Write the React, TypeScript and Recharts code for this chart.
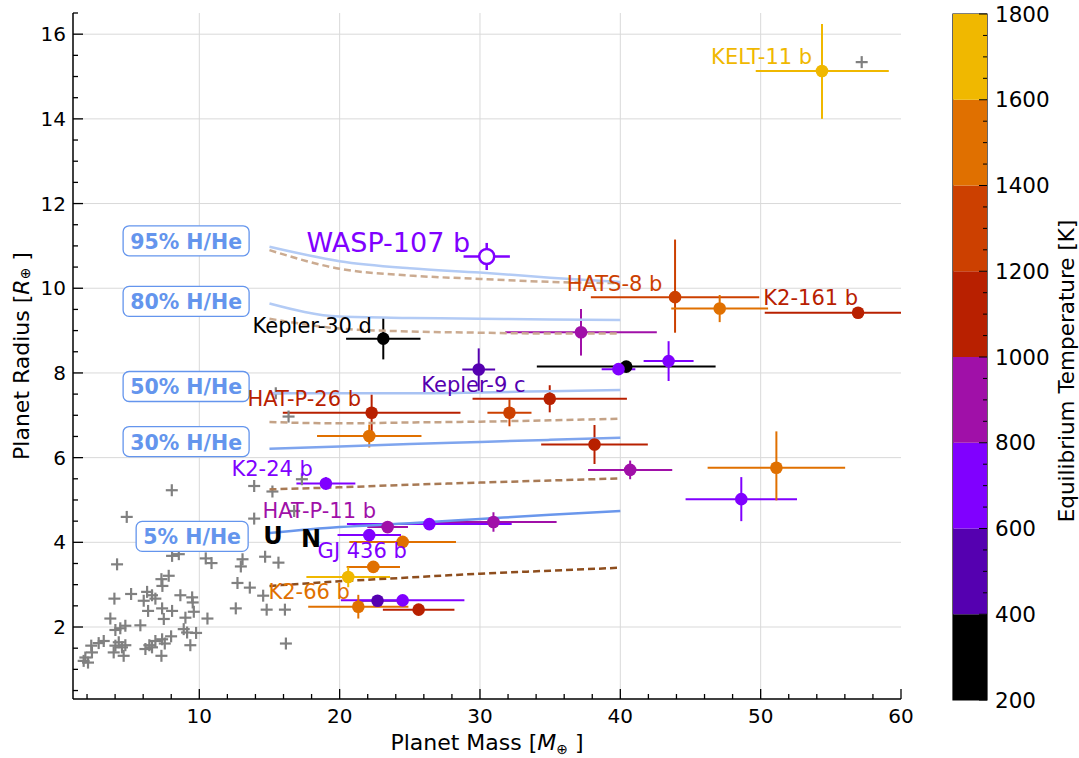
import React from 'react';
import { ScatterChart, Scatter, XAxis, YAxis, CartesianGrid, ErrorBar, BarChart, Bar, ReferenceArea } from 'recharts';

const FONT = '"DejaVu Sans", sans-serif';

// colour bar: equilibrium temperature bins
const TEMP_EDGES = [200, 400, 600, 800, 1000, 1200, 1400, 1600, 1800];
const TEMP_COLORS = ['#000000', '#5500b0', '#8000ff', '#a010a8', '#b82000', '#cc4000', '#e07000', '#f0b800'];

// planets, grouped by temperature bin (mass, radius, mass err, radius err)
const BIN_200 = [
  { x: 23.11, y: 8.81, ex: 2.65, ey: 0.49 },
  { x: 40.42, y: 8.15, ex: 6.37, ey: 0.05 },
];
const BIN_400 = [
  { x: 29.91, y: 8.08, ex: 1.17, ey: 0.5 },
  { x: 22.7, y: 2.62, ex: 1.5, ey: 0.06 },
];
const BIN_600 = [
  { x: 39.87, y: 8.09, ex: 1.2, ey: 0.05 },
  { x: 43.44, y: 8.28, ex: 1.78, ey: 0.47 },
  { x: 48.62, y: 5.02, ex: 3.97, ey: 0.52 },
  { x: 19.02, y: 5.39, ex: 2.1, ey: 0.15 },
  { x: 26.39, y: 4.43, ex: 5.87, ey: 0.08 },
  { x: 22.11, y: 4.17, ex: 2.26, ey: 0.08 },
  { x: 24.49, y: 2.63, ex: 4.4, ey: 0.06 },
];
const BIN_800 = [
  { x: 37.2, y: 8.96, ex: 5.4, ey: 0.55 },
  { x: 40.7, y: 5.71, ex: 3.0, ey: 0.22 },
  { x: 30.96, y: 4.48, ex: 4.5, ey: 0.23 },
  { x: 23.42, y: 4.36, ex: 1.45, ey: 0.06 },
];
const BIN_1000 = [
  { x: 56.94, y: 9.42, ex: [6.65, 3.06], ey: 0.05 },
  { x: 34.97, y: 7.39, ex: 5.5, ey: 0.32 },
  { x: 22.28, y: 7.06, ex: 6.33, ey: 0.43 },
  { x: 38.16, y: 6.31, ex: 3.8, ey: 0.46 },
  { x: 25.63, y: 2.41, ex: 2.55, ey: 0.06 },
];
const BIN_1200 = [
  { x: 43.9, y: 9.79, ex: 6.0, ey: [0.84, 1.36] },
  { x: 32.1, y: 7.06, ex: 1.57, ey: 0.32 },
];
const BIN_1400 = [
  { x: 47.08, y: 9.52, ex: 3.45, ey: 0.32 },
  { x: 22.11, y: 6.51, ex: 3.72, ey: 0.27 },
  { x: 51.12, y: 5.76, ex: 4.9, ey: [0.77, 0.86] },
  { x: 24.49, y: 4.01, ex: 3.8, ey: 0.1 },
  { x: 22.4, y: 3.42, ex: 1.9, ey: 0.08 },
  { x: 21.33, y: 2.48, ex: 3.57, ey: 0.28 },
];
const BIN_1600 = [
  { x: 54.37, y: 15.13, ex: [4.72, 4.76], ey: [1.13, 1.11] },
  { x: 20.61, y: 3.18, ex: 2.98, ey: 0.24 },
];
const PLANET_BINS = [BIN_200, BIN_400, BIN_600, BIN_800, BIN_1000, BIN_1200, BIN_1400, BIN_1600];

// WASP-107 b (open marker)
const WASP107 = [{ x: 30.48, y: 10.75, ex: 1.65, ey: 0.32 }];

// known planets (grey crosses)
const KNOWN = [
  [4.14, 3.48], [3.95, 2.67], [5.14, 2.78], [7.3, 3.13], [7.82, 3.21], [7.37, 2.97], [6.28, 2.83], [6.63, 2.75],
  [6.04, 2.62], [6.87, 2.67], [6.35, 2.38], [7.35, 2.44], [8.06, 2.38], [7.47, 2.19], [8.65, 2.75], [9.49, 2.7],
  [9.53, 2.58], [9.61, 2.36], [9.01, 2.22], [3.66, 2.2], [5.8, 2.04], [4.73, 2.03], [4.02, 1.93], [4.37, 1.97],
  [8.89, 1.95], [9.13, 1.87], [9.77, 1.86], [7.99, 1.78], [7.35, 1.71], [6.87, 1.67], [6.44, 1.57], [6.16, 1.48],
  [6.63, 1.52], [7.54, 1.61], [7.3, 1.32], [9.36, 1.57], [3.19, 1.67], [2.83, 1.62], [2.3, 1.56], [2.35, 1.4],
  [1.88, 1.28], [1.76, 1.2], [2.07, 1.16], [4.02, 1.56], [4.49, 1.52], [4.26, 1.64], [4.73, 1.57], [3.9, 1.4],
  [4.61, 1.32], [8.06, 3.68], [8.54, 3.72], [8.04, 5.23], [4.83, 4.6],
  [13.91, 5.33], [15.21, 5.2], [17.31, 5.49], [13.91, 4.56], [16.76, 4.74], [10.46, 3.62], [10.87, 3.51],
  [13.08, 3.6], [12.96, 3.43], [14.69, 3.66], [15.64, 3.52], [12.72, 3.04], [13.6, 2.93], [14.55, 2.74],
  [12.6, 2.44], [14.8, 2.41], [16.1, 2.41], [10.58, 2.2], [16.17, 1.61],
  [15.45, 7.52], [16.36, 6.97], [57.2, 15.34],
];

// H/He envelope models
const MODEL_MASS = [15, 20, 25, 30, 35, 40];
const H95 = [10.98, 10.64, 10.47, 10.37, 10.25, 10.15];
const D95 = [10.9, 10.46, 10.3, 10.22, 10.15, 10.12];
const H80 = [9.64, 9.33, 9.3, 9.28, 9.26, 9.25];
const D80 = [9.28, 9.05, 8.98, 8.95, 8.93, 8.93];
const H50 = [7.52, 7.52, 7.52, 7.54, 7.57, 7.6];
const D50 = [6.84, 6.81, 6.83, 6.85, 6.88, 6.92];
const H30 = [6.21, 6.26, 6.32, 6.37, 6.42, 6.47];
const D30 = [5.25, 5.3, 5.36, 5.41, 5.46, 5.51];
const H05 = [4.22, 4.36, 4.45, 4.55, 4.65, 4.74];
const D05 = [2.97, 3.08, 3.17, 3.26, 3.33, 3.4];

const MODELS = [
  { r: D95, color: '#cbab91', dash: '7 4' },
  { r: H95, color: '#b3cbf5' },
  { r: D80, color: '#cbab91', dash: '7 4' },
  { r: H80, color: '#b3cbf5' },
  { r: D50, color: '#c4a286', dash: '7 4' },
  { r: H50, color: '#a8c2f3' },
  { r: D30, color: '#a87a55', dash: '7 4' },
  { r: H30, color: '#7fa5ee' },
  { r: D05, color: '#8e4e1e', dash: '7 4' },
  { r: H05, color: '#6a97ec' },
];

const HHE_LABELS = [
  { x: 9.06, y: 11.12, text: '95% H/He', w: 126 },
  { x: 9.06, y: 9.69, text: '80% H/He', w: 126 },
  { x: 9.06, y: 7.68, text: '50% H/He', w: 126 },
  { x: 9.06, y: 6.38, text: '30% H/He', w: 126 },
  { x: 9.49, y: 4.14, text: '5% H/He', w: 112 },
];

const PLANET_LABELS = [
  { x: 50.07, y: 15.46, text: 'KELT-11 b', color: TEMP_COLORS[7], size: 21 },
  { x: 23.47, y: 11.08, text: 'WASP-107 b', color: TEMP_COLORS[2], size: 27 },
  { x: 39.59, y: 10.09, text: 'HATS-8 b', color: TEMP_COLORS[5], size: 21 },
  { x: 53.57, y: 9.76, text: 'K2-161 b', color: TEMP_COLORS[4], size: 21 },
  { x: 18.05, y: 9.12, text: 'Kepler-30 d', color: TEMP_COLORS[0], size: 21 },
  { x: 29.53, y: 7.71, text: 'Kepler-9 c', color: TEMP_COLORS[1], size: 21 },
  { x: 17.48, y: 7.38, text: 'HAT-P-26 b', color: TEMP_COLORS[4], size: 21 },
  { x: 15.19, y: 5.72, text: 'K2-24 b', color: TEMP_COLORS[2], size: 21 },
  { x: 18.55, y: 4.73, text: 'HAT-P-11 b', color: TEMP_COLORS[3], size: 21 },
  { x: 21.61, y: 3.79, text: 'GJ 436 b', color: TEMP_COLORS[2], size: 21 },
  { x: 17.83, y: 2.82, text: 'K2-66 b', color: TEMP_COLORS[6], size: 21 },
  { x: 15.26, y: 4.15, text: 'U', color: '#000', size: 24, bold: true },
  { x: 17.97, y: 4.07, text: 'N', color: '#000', size: 24, bold: true },
];

const X_TICKS: number[] = [];
for (let v = 2; v <= 60; v += 2) X_TICKS.push(v);
const Y_TICKS: number[] = [];
for (let v = 0.5; v <= 16.5; v += 0.5) Y_TICKS.push(v);
const T_TICKS: number[] = [];
for (let v = 200; v <= 1800; v += 50) T_TICKS.push(v);

const knownData = KNOWN.map(([x, y]) => ({ x, y }));
const cbData = [
  TEMP_EDGES.slice(1).reduce(
    (row: any, e, i) => ({ ...row, ['b' + i]: e - TEMP_EDGES[i] }),
    { name: 'T', base: TEMP_EDGES[0] }
  ),
];

const Plus = (p: any) => (
  <g stroke="#808080" strokeWidth={2.2}>
    <line x1={p.cx - 6} x2={p.cx + 6} y1={p.cy} y2={p.cy} />
    <line x1={p.cx} x2={p.cx} y1={p.cy - 6} y2={p.cy + 6} />
  </g>
);
const Empty = () => <g />;
const dotShape = (color: string) => (p: any) => <circle cx={p.cx} cy={p.cy} r={6.3} fill={color} />;
const OpenDot = (p: any) => <circle cx={p.cx} cy={p.cy} r={7.5} fill="#fff" stroke={TEMP_COLORS[2]} strokeWidth={2.5} />;

const TextMark = (p: any) => {
  const d = p.payload;
  return (
    <text x={p.cx} y={p.cy} textAnchor="middle" dominantBaseline="central" fontSize={d.size}
      fontWeight={d.bold ? 'bold' : 'normal'} fill={d.color} fontFamily={FONT}>
      {d.text}
    </text>
  );
};

const HHeBox = (p: any) => {
  const d = p.payload;
  return (
    <g>
      <rect x={p.cx - d.w / 2} y={p.cy - 15} width={d.w} height={30} rx={6} fill="#fff" stroke="#6495ed" strokeWidth={1.3} />
      <text x={p.cx} y={p.cy + 1} textAnchor="middle" dominantBaseline="central" fontSize={20.5} fontWeight="bold"
        fill="#6495ed" fontFamily={FONT}>
        {d.text}
      </text>
    </g>
  );
};

const BottomTick = ({ x, y, payload }: any) => {
  const major = payload.value % 10 === 0;
  return (
    <g>
      <line x1={x} x2={x} y1={y} y2={y - (major ? 10 : 5)} stroke="#000" strokeWidth={1.3} />
      {major && (
        <text x={x} y={y + 24} textAnchor="middle" fontSize={20} fill="#000" fontFamily={FONT}>{payload.value}</text>
      )}
    </g>
  );
};
const TopTick = ({ x, y, payload }: any) => {
  const major = payload.value % 10 === 0;
  return <line x1={x} x2={x} y1={y} y2={y + (major ? 10 : 5)} stroke="#000" strokeWidth={1.3} />;
};
const LeftTick = ({ x, y, payload }: any) => {
  const major = payload.value % 2 === 0;
  return (
    <g>
      <line x1={x} x2={x + (major ? 10 : 5)} y1={y} y2={y} stroke="#000" strokeWidth={1.3} />
      {major && (
        <text x={x - 7} y={y} textAnchor="end" dominantBaseline="central" fontSize={20} fill="#000" fontFamily={FONT}>
          {payload.value}
        </text>
      )}
    </g>
  );
};
const RightTick = ({ x, y, payload }: any) => {
  const major = payload.value % 2 === 0;
  return <line x1={x} x2={x - (major ? 10 : 5)} y1={y} y2={y} stroke="#000" strokeWidth={1.3} />;
};
const CbTick = ({ x, y, payload }: any) => {
  const major = payload.value % 200 === 0;
  return (
    <g>
      <line x1={x} x2={x - (major ? 8 : 4)} y1={y} y2={y} stroke="#000" strokeWidth={1} />
      {major && (
        <text x={x + 8} y={y} textAnchor="start" dominantBaseline="central" fontSize={21.5} fill="#000" fontFamily={FONT}>
          {payload.value}
        </text>
      )}
    </g>
  );
};

const XTitle = ({ viewBox }: any) => (
  <text x={viewBox.x + viewBox.width / 2} y={viewBox.y + 51} textAnchor="middle" fontSize={22} fill="#000" fontFamily={FONT}>
    Planet Mass [<tspan fontStyle="italic">M</tspan>
    <tspan fontSize={14} dy={4}>⊕</tspan>
    <tspan dy={-4}> ]</tspan>
  </text>
);
const YTitle = ({ viewBox }: any) => {
  const cx = 21;
  const cy = viewBox.y + viewBox.height / 2;
  return (
    <text x={cx} y={cy} transform={`rotate(-90, ${cx}, ${cy})`} textAnchor="middle" dominantBaseline="central"
      fontSize={22} fill="#000" fontFamily={FONT}>
      Planet Radius [<tspan fontStyle="italic">R</tspan>
      <tspan fontSize={14} dy={4}>⊕</tspan>
      <tspan dy={-4}> ]</tspan>
    </text>
  );
};
const CbTitle = ({ viewBox }: any) => {
  const cx = viewBox.x + 79;
  const cy = viewBox.y + viewBox.height / 2 + 14;
  return (
    <text x={cx} y={cy} transform={`rotate(-90, ${cx}, ${cy})`} textAnchor="middle" dominantBaseline="central"
      fontSize={21.5} fill="#000" fontFamily={FONT}>
      Equilibrium Temperature [K]
    </text>
  );
};

const axisLine = { stroke: '#000', strokeWidth: 1.5 };

export default function App() {
  return (
    <div style={{ position: 'absolute', left: 0, top: 0, width: 1079, height: 758, background: '#fff', fontFamily: FONT }}>
      <div style={{ position: 'absolute', left: 0, top: 0 }}>
        <ScatterChart width={920} height={758} margin={{ top: 13, right: 19, bottom: 29, left: 13 }}>
          <CartesianGrid stroke="#d9d9d9" strokeWidth={1}
            verticalValues={[10, 20, 30, 40, 50]}
            horizontalValues={[2, 4, 6, 8, 10, 12, 14, 16]} />
          <XAxis dataKey="x" type="number" domain={[1, 60]} allowDataOverflow ticks={X_TICKS} interval={0}
            tickSize={0} tickMargin={0} tickLine={false} axisLine={axisLine} height={30}
            tick={(p: any) => <BottomTick {...p} />} label={(p: any) => <XTitle {...p} />} />
          <XAxis xAxisId="top" orientation="top" type="number" domain={[1, 60]} allowDataOverflow ticks={X_TICKS}
            interval={0} tickSize={0} tickMargin={0} tickLine={false} axisLine={axisLine} height={0}
            tick={(p: any) => <TopTick {...p} />} />
          <YAxis dataKey="y" type="number" domain={[0.3, 16.5]} allowDataOverflow ticks={Y_TICKS} interval={0}
            tickSize={0} tickMargin={0} tickLine={false} axisLine={axisLine} width={60}
            tick={(p: any) => <LeftTick {...p} />} label={(p: any) => <YTitle {...p} />} />
          <YAxis yAxisId="right" orientation="right" type="number" domain={[0.3, 16.5]} allowDataOverflow ticks={Y_TICKS}
            interval={0} tickSize={0} tickMargin={0} tickLine={false} axisLine={axisLine} width={0}
            tick={(p: any) => <RightTick {...p} />} />

          <Scatter data={knownData} shape={Plus} isAnimationActive={false} />

          {MODELS.map((m, i) => (
            <Scatter key={'m' + i} data={MODEL_MASS.map((x, j) => ({ x, y: m.r[j] }))} shape={Empty}
              line={{ stroke: m.color, strokeWidth: 2.5, strokeDasharray: m.dash }} lineJointType="monotoneX"
              isAnimationActive={false} />
          ))}

          <Scatter data={HHE_LABELS} shape={HHeBox} isAnimationActive={false} />

          {PLANET_BINS.map((bin, i) => (
            <Scatter key={'b' + i} data={bin} shape={dotShape(TEMP_COLORS[i])} isAnimationActive={false}>
              <ErrorBar dataKey="ex" direction="x" width={0} stroke={TEMP_COLORS[i]} strokeWidth={2} />
              <ErrorBar dataKey="ey" direction="y" width={0} stroke={TEMP_COLORS[i]} strokeWidth={2} />
            </Scatter>
          ))}

          <Scatter data={WASP107} shape={OpenDot} isAnimationActive={false}>
            <ErrorBar dataKey="ex" direction="x" width={0} stroke={TEMP_COLORS[2]} strokeWidth={2.5} />
            <ErrorBar dataKey="ey" direction="y" width={0} stroke={TEMP_COLORS[2]} strokeWidth={2.5} />
          </Scatter>

          <Scatter data={PLANET_LABELS} shape={TextMark} isAnimationActive={false} />
        </ScatterChart>
      </div>

      <div style={{ position: 'absolute', left: 951, top: 0 }}>
        <BarChart width={128} height={758} data={cbData} margin={{ top: 14, right: 2, bottom: 58, left: 2 }}
          barCategoryGap={0}>
          <XAxis dataKey="name" type="category" hide />
          <YAxis orientation="right" type="number" domain={[200, 1800]} allowDataOverflow ticks={T_TICKS} interval={0}
            tickSize={0} tickMargin={0} tickLine={false} axisLine={false} width={90}
            tick={(p: any) => <CbTick {...p} />} label={(p: any) => <CbTitle {...p} />} />
          <Bar dataKey="base" stackId="t" fill="none" isAnimationActive={false} />
          {TEMP_COLORS.map((c, i) => (
            <Bar key={'cb' + i} dataKey={'b' + i} stackId="t" fill={c} isAnimationActive={false} />
          ))}
          <ReferenceArea y1={200} y2={1800} fill="none" stroke="#000" strokeWidth={1.2} ifOverflow="visible" />
        </BarChart>
      </div>
    </div>
  );
}
